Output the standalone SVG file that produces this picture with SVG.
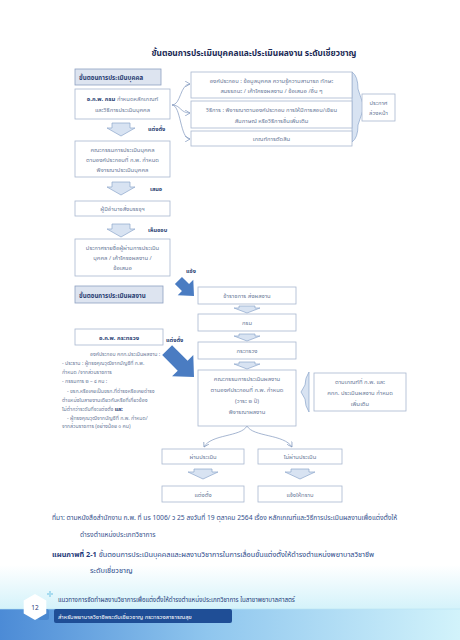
<svg xmlns="http://www.w3.org/2000/svg" width="460" height="640" viewBox="0 0 460 640">
<defs>
<style>
text{font-family:"Noto Sans Thai","Noto Sans","DejaVu Sans",sans-serif;}
.bx{fill:#ffffff;stroke:#a9b7cf;stroke-width:0.8;}
.hd{fill:#dde4f0;stroke:#8ea0c0;stroke-width:0.8;}
.t{font-size:5.9px;fill:#6b7a99;text-anchor:middle;}
.tl{font-size:5.2px;fill:#6b7a99;}
.b{font-weight:bold;fill:#2b3f73;}
.lab{font-size:5.6px;font-weight:bold;fill:#2b3f73;}
.ar{fill:#d8e3f2;stroke:#8da6cc;stroke-width:0.7;}
.cn{fill:none;stroke:#7f97bd;stroke-width:0.7;}
.big{fill:#4a7cc2;}
.src{font-size:6.7px;fill:#34508c;}
</style>
<marker id="ah" markerWidth="6" markerHeight="6" refX="5" refY="3" orient="auto" markerUnits="userSpaceOnUse">
<path d="M0,0 L5,3 L0,6" fill="none" stroke="#7f97bd" stroke-width="0.7"/>
</marker>
<path id="dA" d="M-9,0 H9 V5 H14 L0,13 L-14,5 H-9 Z"/>
<path id="dS" d="M-8,0 H8 V2 H13 L0,7 L-13,2 H-8 Z"/>
<path id="dB" d="M-9,0 H9 V3 H15 L0,10 L-15,3 H-9 Z"/>
<linearGradient id="fade" x1="0" y1="0" x2="0" y2="1">
<stop offset="0" stop-color="#ffffff"/>
<stop offset="1" stop-color="#d3f2fa"/>
</linearGradient>
<linearGradient id="band" x1="0" y1="0" x2="1" y2="0">
<stop offset="0" stop-color="#4c8bd6"/>
<stop offset="0.45" stop-color="#8fc6ee"/>
<stop offset="1" stop-color="#d2f3fb"/>
</linearGradient>
</defs>
<rect width="460" height="640" fill="#ffffff"/>
<rect x="0" y="565" width="460" height="45" fill="url(#fade)"/>
<rect x="0" y="609" width="460" height="31" fill="url(#band)"/>
<line x1="0" y1="609" x2="460" y2="609" stroke="#b8e4f4" stroke-width="0.6"/>

<text x="254" y="56" text-anchor="middle" style="font-size:8.4px;font-weight:bold;fill:#1b2a55">ขั้นตอนการประเมินบุคคลและประเมินผลงาน ระดับเชี่ยวชาญ</text>

<g id="connectors">
<path class="cn" d="M172,105 C181,105 180,84 190,84" marker-end="url(#ah)"/>
<path class="cn" d="M172,105 C181,105 180,113 190,113" marker-end="url(#ah)"/>
<path class="cn" d="M172,105 C181,105 180,139 190,139" marker-end="url(#ah)"/>
<path class="ar" d="M352,72 Q358,76 358,89 L364,107 L358,125 Q358,138 352,142 Z"/>
<use href="#dA" class="ar" x="121" y="123"/>
<use href="#dA" class="ar" x="121" y="182"/>
<use href="#dA" class="ar" x="121" y="224"/>
<path class="big" transform="translate(194,296) rotate(45)" d="M0,0 L-12,-11 L-12,-5 L-22,-5 L-22,5 L-12,5 L-12,11 Z"/>
<path class="big" transform="translate(194,377) rotate(45)" d="M0,0 L-16,-15 L-16,-7 L-38,-7 L-38,7 L-16,7 L-16,15 Z"/>
<use href="#dS" class="ar" x="247" y="306"/>
<use href="#dS" class="ar" x="247" y="334"/>
<use href="#dS" class="ar" x="247" y="362"/>
<path class="ar" d="M309,372 Q305,378 305,385 L301,392 L305,399 Q305,406 309,412 Z"/>
<path class="cn" d="M247,426 C241,437 211,434 204,447" marker-end="url(#ah)"/>
<path class="cn" d="M247,426 C253,437 284,434 292,447" marker-end="url(#ah)"/>
<use href="#dB" class="ar" x="203" y="469"/>
<use href="#dB" class="ar" x="300" y="469"/>
</g>

<g id="n-head1"><rect class="hd" x="75" y="69" width="86" height="16"/><text x="79" y="80" class="lab" style="font-size:6.2px">ขั้นตอนการประเมินบุคคล</text></g>
<g id="n-okp-krom"><rect class="bx" x="75" y="89" width="95" height="30"/>
<text x="122.5" y="101" class="t"><tspan class="b">อ.ก.พ. กรม</tspan> กำหนดหลักเกณฑ์</text>
<text x="122.5" y="112" class="t">และวิธีการประเมินบุคคล</text></g>
<g id="n-comp"><rect class="bx" x="191" y="72" width="161" height="26"/>
<text x="271.5" y="83" class="t">องค์ประกอบ : ข้อมูลบุคคล ความรู้ความสามารถ ทักษะ</text>
<text x="271.5" y="93" class="t">สมรรถนะ / เค้าโครงผลงาน / ข้อเสนอ /อื่น ๆ</text></g>
<g id="n-method"><rect class="bx" x="191" y="101" width="161" height="27"/>
<text x="271.5" y="112" class="t">วิธีการ : พิจารณาตามองค์ประกอบ การให้มีการสอบ/เขียน</text>
<text x="271.5" y="122.5" class="t">สัมภาษณ์ หรือวิธีการอื่นเพิ่มเติม</text></g>
<g id="n-criteria"><rect class="bx" x="191" y="131" width="161" height="15"/>
<text x="271.5" y="141" class="t">เกณฑ์การตัดสิน</text></g>
<g id="n-announce"><rect class="bx" x="362" y="94" width="33" height="27"/>
<text x="378.5" y="105" class="t">ประกาศ</text><text x="378.5" y="115" class="t">ล่วงหน้า</text></g>
<text x="148" y="131" class="lab">แต่งตั้ง</text>
<g id="n-comm1"><rect class="bx" x="75" y="141" width="95" height="36"/>
<text x="122.5" y="152" class="t">คณะกรรมการประเมินบุคคล</text>
<text x="122.5" y="162" class="t">ตามองค์ประกอบที่ ก.พ. กำหนด</text>
<text x="122.5" y="172" class="t">พิจารณาประเมินบุคคล</text></g>
<text x="150" y="191" class="lab">เสนอ</text>
<g id="n-auth"><rect class="bx" x="75" y="201" width="95" height="15"/>
<text x="122.5" y="211" class="t">ผู้มีอำนาจสั่งบรรจุฯ</text></g>
<text x="148" y="232" class="lab">เห็นชอบ</text>
<g id="n-list"><rect class="bx" x="75" y="239" width="95" height="37"/>
<text x="122.5" y="250" class="t">ประกาศรายชื่อผู้ผ่านการประเมิน</text>
<text x="122.5" y="260" class="t">บุคคล / เค้าโครงผลงาน /</text>
<text x="122.5" y="270" class="t">ข้อเสนอ</text></g>
<text x="186" y="273" class="lab">แจ้ง</text>
<g id="n-head2"><rect class="hd" x="75" y="286" width="88" height="17"/><text x="79" y="297.5" class="lab" style="font-size:6.2px">ขั้นตอนการประเมินผลงาน</text></g>
<g id="n-okp-ksw"><rect class="bx" x="75" y="329" width="88" height="16"/>
<text x="119" y="340" class="t b">อ.ก.พ. กระทรวง</text></g>
<text x="166" y="342" class="lab">แต่งตั้ง</text>
<g id="n-members">
<text x="90" y="356" class="tl">องค์ประกอบ คกก.ประเมินผลงาน :</text>
<text x="62" y="365" class="tl">- ประธาน : ผู้ทรงคุณวุฒิจากบัญชีที่ ก.พ.</text>
<text x="62" y="373.5" class="tl">กำหนด /จากส่วนราชการ</text>
<text x="62" y="383" class="tl">- กรรมการ ๒ – ๔ คน :</text>
<text x="67" y="392.5" class="tl">- ขรก.หรือเคยเป็นขรก.ที่ดำรงหรือเคยดำรง</text>
<text x="62" y="401.5" class="tl">ตำแหน่งในสายงานเดียวกันหรือที่เกี่ยวข้อง</text>
<text x="62" y="410.5" class="tl">ไม่ต่ำกว่าระดับที่จะแต่งตั้ง <tspan class="b">และ</tspan></text>
<text x="67" y="419.5" class="tl">- ผู้ทรงคุณวุฒิจากบัญชีที่ ก.พ. กำหนด/</text>
<text x="62" y="428" class="tl">จากส่วนราชการ (อย่างน้อย ๑ คน)</text>
</g>
<g id="n-submit"><rect class="bx" x="198" y="287" width="98" height="17"/><text x="247" y="298" class="t">ข้าราชการ ส่งผลงาน</text></g>
<g id="n-krom"><rect class="bx" x="198" y="314" width="98" height="17"/><text x="247" y="325" class="t">กรม</text></g>
<g id="n-ksw"><rect class="bx" x="198" y="342" width="98" height="17"/><text x="247" y="353" class="t">กระทรวง</text></g>
<g id="n-comm2"><rect class="bx" x="198" y="370" width="98" height="56"/>
<text x="247" y="381" class="t">คณะกรรมการประเมินผลงาน</text>
<text x="247" y="392" class="t">ตามองค์ประกอบที่ ก.พ. กำหนด</text>
<text x="247" y="403" class="t">(วาระ ๒ ปี)</text>
<text x="247" y="414" class="t">พิจารณาผลงาน</text></g>
<g id="n-extra"><rect class="bx" x="314" y="373" width="92" height="38"/>
<text x="360" y="384" class="t">ตามเกณฑ์ที่ ก.พ. และ</text>
<text x="360" y="395" class="t">คกก. ประเมินผลงาน กำหนด</text>
<text x="360" y="406" class="t">เพิ่มเติม</text></g>
<g id="n-pass"><rect class="bx" x="162" y="449" width="82" height="15"/><text x="203" y="459" class="t">ผ่านประเมิน</text></g>
<g id="n-fail"><rect class="bx" x="258" y="449" width="84" height="15"/><text x="300" y="459" class="t">ไม่ผ่านประเมิน</text></g>
<g id="n-appoint"><rect class="bx" x="162" y="486" width="82" height="16"/><text x="203" y="497" class="t">แต่งตั้ง</text></g>
<g id="n-notify"><rect class="bx" x="258" y="486" width="84" height="16"/><text x="300" y="497" class="t">แจ้งให้ทราบ</text></g>

<text x="52" y="520" class="src">ที่มา: ตามหนังสือสำนักงาน ก.พ. ที่ นร 1006/ ว 25 ลงวันที่ 19 ตุลาคม 2564 เรื่อง หลักเกณฑ์และวิธีการประเมินผลงานเพื่อแต่งตั้งให้</text>
<text x="80" y="537" class="src">ดำรงตำแหน่งประเภทวิชาการ</text>
<text x="52" y="557" style="font-size:7.3px;fill:#2b4a8a"><tspan font-weight="bold" fill="#1f3a7a">แผนภาพที่ 2-1</tspan> ขั้นตอนการประเมินบุคคลและผลงานวิชาการในการเลื่อนขั้นแต่งตั้งให้ดำรงตำแหน่งพยาบาลวิชาชีพ</text>
<text x="90" y="573" style="font-size:7.3px;fill:#2b4a8a">ระดับเชี่ยวชาญ</text>

<g id="footer">
<rect x="38" y="609" width="11" height="11" rx="2.5" fill="#4a88d0"/>
<path d="M35,594 L46.3,600.5 L46.3,613.5 L35,620 L23.7,613.5 L23.7,600.5 Z" fill="#ffffff"/>
<text x="35" y="609.5" text-anchor="middle" style="font-size:6.5px;fill:#1f3a7a">12</text>
<path d="M50,591 V597 M47,594 H53" stroke="#a8dcf0" stroke-width="2"/>
<text x="58" y="602" style="font-size:6.2px;fill:#1f3c7a">แนวทางการจัดทำผลงานวิชาการเพื่อแต่งตั้งให้ดำรงตำแหน่งประเภทวิชาการ ในสาขาพยาบาลศาสตร์</text>
<rect x="54" y="609" width="178" height="14" rx="2" fill="#1f4e96"/>
<text x="58" y="618.5" style="font-size:5.9px;fill:#ffffff">สำหรับพยาบาลวิชาชีพระดับเชี่ยวชาญ  กระทรวงสาธารณสุข</text>
</g>
</svg>
